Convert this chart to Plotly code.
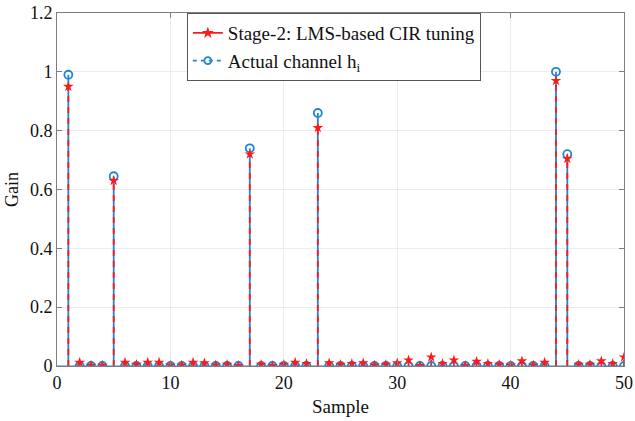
import plotly.graph_objects as go

samples = list(range(1, 51))
actual = [0.0] * 50
for k, v in {1: 0.99, 5: 0.645, 17: 0.74, 23: 0.86, 44: 1.0, 45: 0.72}.items():
    actual[k - 1] = v

estimate = [
    0.95, 0.012, 0.002, 0.002, 0.63, 0.012, 0.005, 0.012, 0.012, 0.003,
    0.003, 0.012, 0.010, 0.003, 0.005, 0.001, 0.72, 0.005, 0.001, 0.005,
    0.012, 0.008, 0.81, 0.010, 0.005, 0.008, 0.010, 0.003, 0.005, 0.010,
    0.020, 0.001, 0.030, 0.008, 0.020, 0.001, 0.015, 0.008, 0.005, 0.003,
    0.017, 0.003, 0.012, 0.97, 0.705, 0.005, 0.005, 0.017, 0.008, 0.030,
]

RED = "#ff1a1a"
BLUE = "#1f86d6"
FONT = "Liberation Serif"


def stems(xs, ys):
    sx, sy = [], []
    for x, y in zip(xs, ys):
        sx += [x, x, None]
        sy += [0, y, None]
    return sx, sy


fig = go.Figure()
ax, ay = stems(samples, actual)
fig.add_trace(go.Scatter(x=ax, y=ay, mode="lines", line=dict(color=BLUE, width=1.8),
                         showlegend=False, hoverinfo="skip"))
ex, ey = stems(samples, estimate)
fig.add_trace(go.Scatter(x=ex, y=ey, mode="lines", line=dict(color=RED, width=1.8, dash="6px,5px"),
                         showlegend=False, hoverinfo="skip"))
fig.add_shape(type="line", xref="paper", yref="y", x0=0, x1=1, y0=0, y1=0,
              line=dict(color=BLUE, width=1.2))
fig.add_trace(go.Scatter(x=samples, y=actual, mode="markers",
                         marker=dict(symbol="circle-open", color=BLUE, size=8, line=dict(width=1.8)),
                         showlegend=False))
fig.add_trace(go.Scatter(x=samples, y=estimate, mode="markers",
                         marker=dict(symbol="star", color=RED, size=8, line=dict(width=0)),
                         showlegend=False))
# legend entries
fig.add_trace(go.Scatter(x=[None], y=[None], mode="lines+markers",
                         name="Stage-2: LMS-based CIR tuning",
                         line=dict(color=RED, width=1.8),
                         marker=dict(symbol="star", color=RED, size=9)))
fig.add_trace(go.Scatter(x=[None], y=[None], mode="lines+markers",
                         name="Actual channel h<sub>i</sub>",
                         line=dict(color=BLUE, width=1.8, dash="4px,4px"),
                         marker=dict(symbol="circle-open", color=BLUE, size=7, line=dict(width=1.8))))

axis_common = dict(showgrid=True, gridcolor="#ececec", gridwidth=1, zeroline=False,
                   showline=True, linecolor="#7f7f7f", linewidth=1, mirror="ticks",
                   ticks="inside", ticklen=5, tickcolor="#7f7f7f", automargin=False,
                   tickfont=dict(family=FONT, size=18, color="#111"))

fig.update_layout(
    width=635, height=421,
    margin=dict(l=57, r=11, t=13, b=55),
    plot_bgcolor="white", paper_bgcolor="white",
    font=dict(family=FONT, color="#111"),
    xaxis=dict(range=[0, 50], tickvals=[0, 10, 20, 30, 40, 50],
               title=dict(text="Sample", font=dict(family=FONT, size=19), standoff=8),
               **axis_common),
    yaxis=dict(range=[0, 1.2], tickvals=[0, 0.2, 0.4, 0.6, 0.8, 1, 1.2],
               title=dict(text="Gain", font=dict(family=FONT, size=18), standoff=6),
               **axis_common),
    legend=dict(x=0.229, y=1.0, xanchor="left", yanchor="top",
                bgcolor="white", bordercolor="#555", borderwidth=1,
                font=dict(family=FONT, size=19), tracegroupgap=0,
                itemwidth=30),
)

fig.write_html("out.html")
